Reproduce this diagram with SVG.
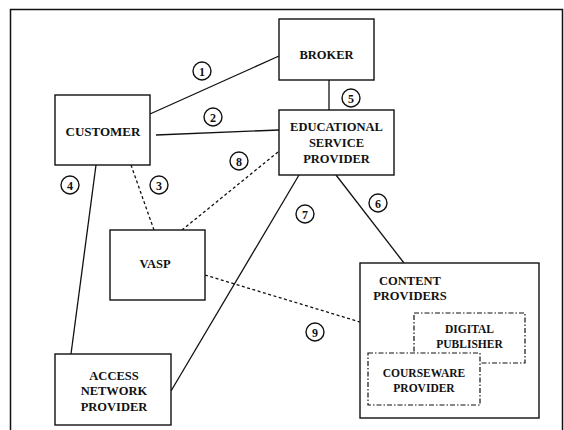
<svg xmlns="http://www.w3.org/2000/svg" width="564" height="430" viewBox="0 0 564 430">
<style>
.box{fill:#fff;stroke:#111;stroke-width:1.4}
.dbox{fill:#fff;stroke:#111;stroke-width:1.2;stroke-dasharray:5,2,1.5,2}
.t{font-family:"Liberation Serif",serif;font-weight:bold;font-size:12.5px;fill:#111;text-anchor:middle}
.ts{font-family:"Liberation Serif",serif;font-weight:bold;font-size:11.5px;fill:#111;text-anchor:middle}
.ln{stroke:#111;stroke-width:1.3;fill:none}
.dl{stroke:#111;stroke-width:1.3;fill:none;stroke-dasharray:3,2.5}
.c{fill:#fff;stroke:#111;stroke-width:1.4}
.n{font-family:"Liberation Serif",serif;font-weight:bold;font-size:12px;fill:#111;text-anchor:middle}
</style>
<rect width="564" height="430" fill="#fff"/>
<g id="frame">
<path d="M10.5 430 V9.5 H562.5 V430" fill="none" stroke="#111" stroke-width="1.5"/>
</g>
<g id="connectors">
<line class="ln" x1="150" y1="114" x2="279" y2="56"/>
<line class="ln" x1="156" y1="135" x2="279" y2="130"/>
<line class="ln" x1="329" y1="80" x2="329" y2="110"/>
<line class="dl" x1="131" y1="165" x2="154" y2="230"/>
<line class="dl" x1="278" y1="152" x2="182" y2="230"/>
<line class="ln" x1="96" y1="165" x2="71" y2="354"/>
<line class="ln" x1="299" y1="175" x2="171" y2="391"/>
<line class="ln" x1="336" y1="175" x2="404" y2="263"/>
<line class="dl" x1="205" y1="275" x2="360" y2="322"/>
<g id="labels">
<circle class="c" cx="202" cy="71" r="9"/><text class="n" x="202" y="75.5">1</text>
<circle class="c" cx="213" cy="117" r="9"/><text class="n" x="213" y="121.5">2</text>
<circle class="c" cx="159" cy="185" r="9"/><text class="n" x="159" y="189.5">3</text>
<circle class="c" cx="70" cy="185" r="9"/><text class="n" x="70" y="189.5">4</text>
<circle class="c" cx="351" cy="98" r="9"/><text class="n" x="351" y="102.5">5</text>
<circle class="c" cx="378" cy="203" r="9"/><text class="n" x="378" y="207.5">6</text>
<circle class="c" cx="305" cy="214" r="9"/><text class="n" x="305" y="218.5">7</text>
<circle class="c" cx="239" cy="161" r="9"/><text class="n" x="239" y="165.5">8</text>
<circle class="c" cx="315" cy="332" r="9"/><text class="n" x="315" y="336.5">9</text>
</g>
</g>
<g id="broker"><rect class="box" x="279" y="19" width="95" height="61"/><text class="t" x="326.5" y="59">BROKER</text></g>
<g id="customer"><rect class="box" x="55" y="95" width="95" height="70"/><text class="t" x="103" y="136" style="font-size:13px">CUSTOMER</text></g>
<g id="esp"><rect class="box" x="279" y="110" width="115" height="65"/><text class="t" x="336.5" y="131">EDUCATIONAL</text><text class="t" x="336.5" y="147">SERVICE</text><text class="t" x="336.5" y="163">PROVIDER</text></g>
<g id="vasp"><rect class="box" x="110" y="230" width="95" height="70"/><text class="t" x="155" y="268">VASP</text></g>
<g id="anp"><rect class="box" x="55" y="354" width="116" height="71"/><text class="t" x="114" y="380">ACCESS</text><text class="t" x="114" y="395">NETWORK</text><text class="t" x="114" y="411">PROVIDER</text></g>
<g id="content"><rect class="box" x="360" y="263" width="179" height="155"/><text class="t" x="410" y="285">CONTENT</text><text class="t" x="410" y="300">PROVIDERS</text></g>
<g id="digital"><rect class="dbox" x="414" y="313" width="111" height="50"/><text class="ts" x="469.5" y="333">DIGITAL</text><text class="ts" x="469.5" y="348">PUBLISHER</text></g>
<g id="courseware"><rect class="dbox" x="368" y="353" width="112" height="52"/><text class="ts" x="424" y="377">COURSEWARE</text><text class="ts" x="424" y="392">PROVIDER</text></g>
</svg>
